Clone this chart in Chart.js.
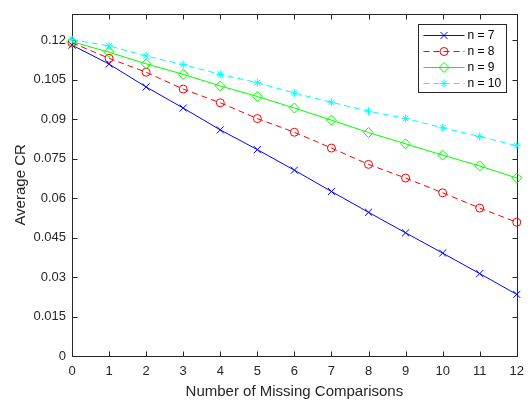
<!DOCTYPE html>
<html>
<head>
<meta charset="utf-8">
<script src="https://cdn.jsdelivr.net/npm/chart.js"></script>
<style>
  html, body { margin: 0; padding: 0; background: #ffffff; }
  #wrap { width: 532px; height: 407px; }
</style>
</head>
<body>
<div id="wrap"><canvas id="c" width="532" height="407"></canvas></div>
<script>
const xValues = [0, 1, 2, 3, 4, 5, 6, 7, 8, 9, 10, 11, 12];
const n7  = [0.1181, 0.1109, 0.1022, 0.0942, 0.0859, 0.0784, 0.0706, 0.0625, 0.0546, 0.0468, 0.0391, 0.0313, 0.0234];
const n8  = [0.1190, 0.1131, 0.1078, 0.1014, 0.0962, 0.0902, 0.0850, 0.0790, 0.0728, 0.0676, 0.0620, 0.0562, 0.0508];
const n9  = [0.1194, 0.1154, 0.1110, 0.1070, 0.1026, 0.0986, 0.0942, 0.0896, 0.0849, 0.0806, 0.0763, 0.0722, 0.0676];
const n10 = [0.1202, 0.1178, 0.1140, 0.1107, 0.1070, 0.1038, 0.0999, 0.0964, 0.0930, 0.0902, 0.0867, 0.0834, 0.0799];
const seriesNames = ['n = 7', 'n = 8', 'n = 9', 'n = 10'];
const yTickValues = [0, 0.015, 0.03, 0.045, 0.06, 0.075, 0.09, 0.105, 0.12];
const yTickLabels = ['0', '0.015', '0.03', '0.045', '0.06', '0.075', '0.09', '0.105', '0.12'];
const xTitle = 'Number of Missing Comparisons';
const yTitle = 'Average CR';

const FONT = '"Liberation Sans", Arial, Helvetica, sans-serif';
const AXIS_COLOR = '#262626';

const styles = [
  { color: '#0000ff', dash: [],     pointStyle: 'crossRot', radius: 5 },
  { color: '#ff0000', dash: [6, 4], pointStyle: 'circle',   radius: 4 },
  { color: '#00ff00', dash: [],     pointStyle: 'rectRot',  radius: 5 },
  { color: '#00ffff', dash: [6, 4], pointStyle: 'star',     radius: 4 }
];
const seriesData = [n7, n8, n9, n10];

const datasets = seriesData.map((d, i) => ({
  label: seriesNames[i],
  data: d,
  borderColor: styles[i].color,
  backgroundColor: styles[i].color,
  borderWidth: 1,
  borderDash: styles[i].dash,
  pointStyle: styles[i].pointStyle,
  pointRadius: styles[i].radius,
  pointHoverRadius: styles[i].radius,
  pointBorderColor: styles[i].color,
  pointBackgroundColor: 'rgba(0,0,0,0)',
  pointBorderWidth: 1,
  tension: 0,
  fill: false,
  clip: false,
  order: 3 - i
}));

function drawMarker(ctx, style, x, y) {
  ctx.save();
  ctx.setLineDash([]);
  ctx.strokeStyle = style.color;
  ctx.fillStyle = 'rgba(0,0,0,0)';
  ctx.lineWidth = 1;
  if (Chart.helpers && Chart.helpers.drawPoint) {
    Chart.helpers.drawPoint(ctx, { pointStyle: style.pointStyle, rotation: 0, radius: style.radius, borderWidth: 1 }, x, y);
  }
  ctx.restore();
}

const boxPlugin = {
  id: 'boxTicks',
  beforeDatasetsDraw(chart) {
    const { ctx, chartArea: a, scales } = chart;
    const L = Math.round(a.left) + 0.5, R = Math.round(a.right) + 0.5;
    const T = Math.round(a.top) + 0.5, B = Math.round(a.bottom) + 0.5;
    ctx.save();
    ctx.strokeStyle = AXIS_COLOR;
    ctx.lineWidth = 1;
    ctx.strokeRect(L, T, R - L, B - T);
    const tl = 5;
    ctx.beginPath();
    scales.x.ticks.forEach((t, i) => {
      const px = Math.round(scales.x.getPixelForTick(i)) + 0.5;
      ctx.moveTo(px, B); ctx.lineTo(px, B - tl);
      ctx.moveTo(px, T); ctx.lineTo(px, T + tl);
    });
    scales.y.ticks.forEach((t) => {
      const py = Math.round(scales.y.getPixelForValue(t.value)) + 0.5;
      ctx.moveTo(L, py); ctx.lineTo(L + tl, py);
      ctx.moveTo(R, py); ctx.lineTo(R - tl, py);
    });
    ctx.stroke();
    ctx.restore();
  }
};

const legendPlugin = {
  id: 'matLegend',
  afterDraw(chart) {
    const { ctx, chartArea: a } = chart;
    const bx = Math.round(a.right) - 99 + 0.5, by = Math.round(a.top) + 10 + 0.5;
    const bw = 88, bh = 68;
    ctx.save();
    ctx.fillStyle = '#ffffff';
    ctx.fillRect(bx, by, bw, bh);
    ctx.strokeStyle = AXIS_COLOR;
    ctx.lineWidth = 1;
    ctx.strokeRect(bx, by, bw, bh);
    ctx.font = '12px ' + FONT;
    ctx.textBaseline = 'middle';
    ctx.textAlign = 'left';
    seriesNames.forEach((name, i) => {
      const y = Math.round(by + 10 + i * 16.3) + 0.5;
      const st = styles[i];
      ctx.save();
      ctx.strokeStyle = st.color;
      ctx.lineWidth = 1;
      ctx.setLineDash(st.dash);
      ctx.beginPath();
      ctx.moveTo(bx + 5, y);
      ctx.lineTo(bx + 46, y);
      ctx.stroke();
      ctx.restore();
      drawMarker(ctx, st, bx + 25.5, y);
      ctx.fillStyle = '#000000';
      ctx.fillText(name, bx + 49, y + 0.5);
    });
    ctx.restore();
  }
};

new Chart(document.getElementById('c'), {
  type: 'line',
  data: { labels: xValues.map(String), datasets },
  options: {
    responsive: false,
    animation: false,
    events: [],
    layout: { padding: { left: 0, right: 14, top: 5, bottom: 0 } },
    plugins: {
      legend: { display: false },
      tooltip: { enabled: false }
    },
    scales: {
      x: {
        type: 'category',
        offset: false,
        grid: { display: false, drawTicks: false },
        border: { display: false },
        ticks: { color: AXIS_COLOR, font: { family: FONT, size: 13 }, padding: 8, maxRotation: 0, autoSkip: false },
        title: { display: true, text: xTitle, color: AXIS_COLOR, font: { family: FONT, size: 15 }, padding: { top: 0, bottom: 6 } },
        afterFit(scale) { scale.height = 51; }
      },
      y: {
        type: 'linear',
        min: 0,
        max: 0.13,
        grid: { display: false, drawTicks: false },
        border: { display: false },
        ticks: {
          color: AXIS_COLOR,
          font: { family: FONT, size: 13 },
          padding: 6,
          callback(value) {
            const idx = yTickValues.findIndex(v => Math.abs(v - value) < 1e-9);
            return idx >= 0 ? yTickLabels[idx] : '';
          }
        },
        afterBuildTicks(scale) { scale.ticks = yTickValues.map(v => ({ value: v })); },
        title: { display: true, text: yTitle, color: AXIS_COLOR, font: { family: FONT, size: 15 }, padding: { top: 11.5, bottom: 0 } },
        afterFit(scale) { scale.width = 72; }
      }
    }
  },
  plugins: [boxPlugin, legendPlugin]
});
</script>
</body>
</html>
